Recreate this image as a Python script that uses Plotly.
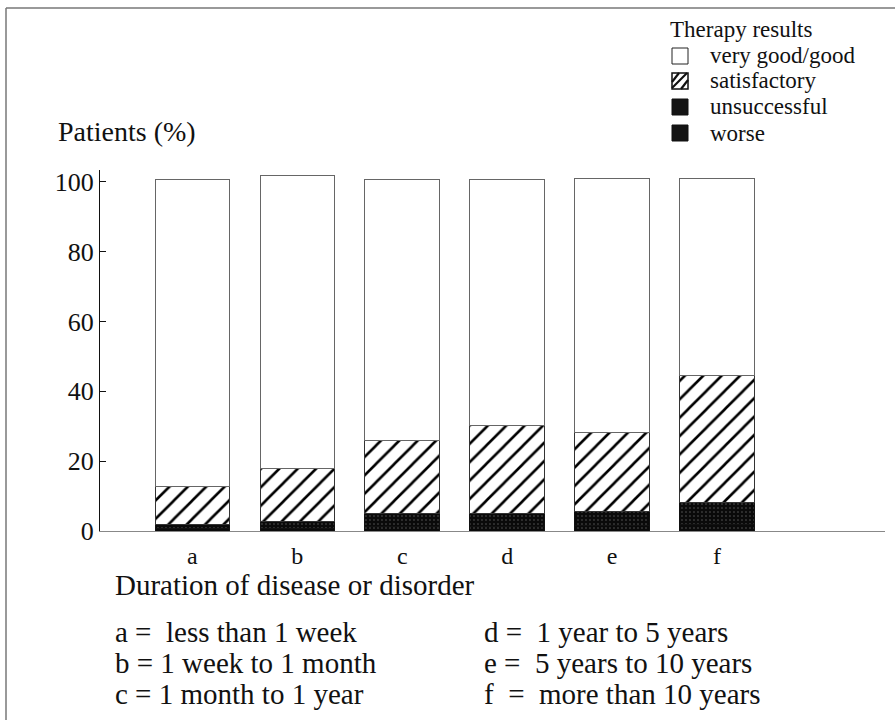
import plotly.graph_objects as go

categories = ["a", "b", "c", "d", "e", "f"]
worse = [0.6, 0.8, 1.2, 1.2, 1.5, 2.0]
unsuccessful = [1.3, 1.8, 3.8, 3.8, 4.1, 6.3]
satisfactory = [10.9, 15.3, 21.0, 25.2, 22.5, 36.2]
very_good = [88.0, 83.8, 74.6, 70.6, 72.9, 56.5]
y_ticks = [0, 20, 40, 60, 80, 100]
legend_title = "Therapy results"
legend_labels = ["very good/good", "satisfactory", "unsuccessful", "worse"]
definitions_left = ["a =  less than 1 week", "b = 1 week to 1 month", "c = 1 month to 1 year"]
definitions_right = ["d =  1 year to 5 years", "e =  5 years to 10 years", "f  =  more than 10 years"]

FONT = "Liberation Serif, Times New Roman, serif"
x = list(range(len(categories)))

# pixel -> paper helpers (plot area: x 100..885, y 170..531)
def px(v):
    return (v - 100) / 785.0

def py(v):
    return (531 - v) / 361.0

DARK = dict(shape=".", fgcolor="#5a5a5a", fgopacity=1, bgcolor="#0a0a0a", size=4, solidity=0.12)

fig = go.Figure()
fig.add_trace(go.Bar(
    x=x, y=worse, name="worse", width=0.71, showlegend=False,
    marker=dict(color="#0a0a0a", line=dict(color="#111", width=1), pattern=DARK),
))
fig.add_trace(go.Bar(
    x=x, y=unsuccessful, name="unsuccessful", width=0.71, showlegend=False,
    marker=dict(color="#0a0a0a", line=dict(color="#111", width=1), pattern=DARK),
))
fig.add_trace(go.Bar(
    x=x, y=satisfactory, name="satisfactory", width=0.71, showlegend=False,
    marker=dict(color="white", line=dict(color="#333", width=1),
                pattern=dict(shape="/", fgcolor="black", fgopacity=1, bgcolor="white",
                             size=13, solidity=0.2)),
))
fig.add_trace(go.Bar(
    x=x, y=very_good, name="very good/good", width=0.71, showlegend=False,
    marker=dict(color="white", line=dict(color="#666", width=1)),
))

fig.update_layout(
    width=895, height=720,
    margin=dict(l=100, r=10, t=170, b=189),
    paper_bgcolor="white", plot_bgcolor="white",
    barmode="stack",
    font=dict(family=FONT, color="#111", size=22),
    showlegend=False,
    xaxis=dict(
        range=[-0.881, 6.602], tickmode="array", tickvals=x, ticktext=categories,
        showline=True, linecolor="#888", linewidth=1, ticks="", showgrid=False,
        zeroline=False, tickfont=dict(size=24, family=FONT), ticklabelstandoff=3,
    ),
    yaxis=dict(
        range=[0, 103.4], tickmode="array", tickvals=y_ticks,
        showline=True, linecolor="#111", linewidth=1, ticks="inside", ticklen=6,
        tickcolor="#111", showgrid=False, zeroline=False,
        tickfont=dict(size=26, family=FONT),
    ),
)

def note(text, x0, y0, size):
    fig.add_annotation(text=text, xref="paper", yref="paper", x=px(x0), y=py(y0),
                       xanchor="left", yanchor="middle", showarrow=False,
                       font=dict(size=size, family=FONT, color="#111"))

note("Patients (%)", 56, 132, 28)
note("Duration of disease or disorder", 113, 585, 29)
for i, t in enumerate(definitions_left):
    note(t, 113, 632 + i * 31, 29)
for i, t in enumerate(definitions_right):
    note(t, 482, 632 + i * 31, 29)

# custom legend
note(legend_title, 668, 30, 23)
item_y = [56, 81, 107, 133]
for t, yy in zip(legend_labels, item_y):
    note(t, 708, yy, 23)
sq = 8
# very good/good: open square
fig.add_shape(type="rect", xref="paper", yref="paper",
              x0=px(672), x1=px(672 + 2 * sq), y0=py(item_y[0] + sq), y1=py(item_y[0] - sq),
              line=dict(color="#222", width=1), fillcolor="white")
# satisfactory: hatched square
fig.add_shape(type="rect", xref="paper", yref="paper",
              x0=px(672), x1=px(672 + 2 * sq), y0=py(item_y[1] + sq), y1=py(item_y[1] - sq),
              line=dict(color="#111", width=1.5), fillcolor="white")
fig.add_shape(type="line", xref="paper", yref="paper",
              x0=px(672), y0=py(item_y[1] + sq - 1), x1=px(672 + 2 * sq - 1), y1=py(item_y[1] - sq),
              line=dict(color="#111", width=2.2))
fig.add_shape(type="line", xref="paper", yref="paper",
              x0=px(672), y0=py(item_y[1] + 1), x1=px(672 + sq - 1), y1=py(item_y[1] - sq),
              line=dict(color="#111", width=2.2))
fig.add_shape(type="line", xref="paper", yref="paper",
              x0=px(672 + sq + 1), y0=py(item_y[1] + sq), x1=px(672 + 2 * sq), y1=py(item_y[1] - 1),
              line=dict(color="#111", width=2.2))
# unsuccessful / worse: dark squares
for yy in item_y[2:]:
    fig.add_shape(type="rect", xref="paper", yref="paper",
                  x0=px(672), x1=px(672 + 2 * sq), y0=py(yy + sq), y1=py(yy - sq),
                  line=dict(color="#111", width=1), fillcolor="#141414")

# scanned frame
fig.add_shape(type="line", xref="paper", yref="paper", x0=px(6), x1=px(895), y0=py(8), y1=py(8),
              line=dict(color="#777", width=1.5))
fig.add_shape(type="line", xref="paper", yref="paper", x0=px(6), x1=px(6), y0=py(8), y1=py(720),
              line=dict(color="#777", width=1.5))

fig.write_html("out.html", config={"displayModeBar": False},
               post_script="document.body.style.margin='0px';")
